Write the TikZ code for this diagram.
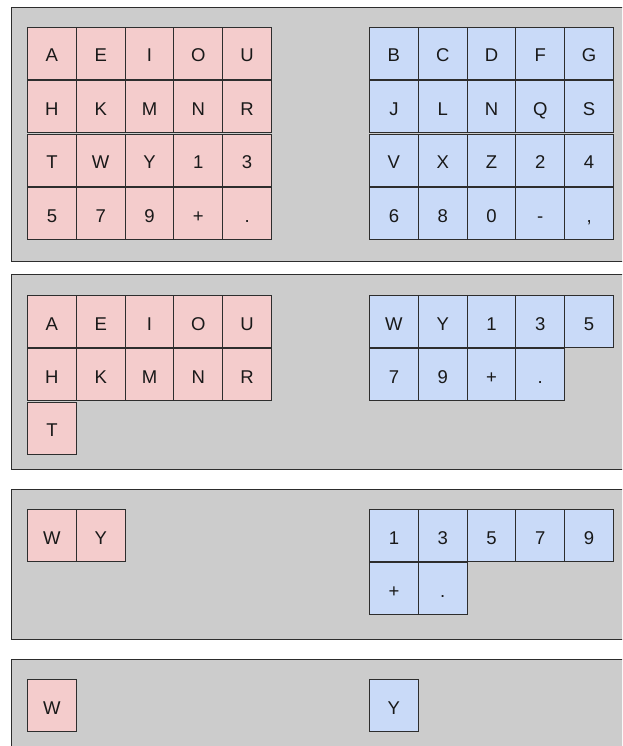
\documentclass[tikz,border=0pt]{standalone}
\usepackage{fontspec}
\setmainfont{Liberation Sans}
\usetikzlibrary{positioning}
\definecolor{PanelGray}{RGB}{204,204,204}
\definecolor{EdgeGray}{RGB}{45,45,45}
\definecolor{SoftPink}{RGB}{244,204,204}
\definecolor{SoftBlue}{RGB}{201,218,248}
\tikzset{
  panel/.style={draw=EdgeGray,fill=PanelGray,line width=1pt,anchor=north west,
    minimum width=640pt,inner sep=0pt},
  key/.style={draw=EdgeGray,line width=1pt,anchor=north west,inner sep=0pt,
    minimum width=48.8pt,minimum height=52pt,text=black!90,
    text height=17pt,text depth=0pt,
    font=\fontsize{18.5}{18.5}\selectfont},
  pinkkey/.style={key,fill=SoftPink},
  bluekey/.style={key,fill=SoftBlue}
}

\begin{document}
\begin{tikzpicture}[x=1pt,y=-1pt]
  \useasboundingbox (0,0) rectangle (622,746);
  \clip (0,0) rectangle (622,746);

  % the four stages
  \node[panel,minimum height=254pt] (stageA) at (11,7) {};
  \node[panel,minimum height=195pt] (stageB) at (11,274) {};
  \node[panel,minimum height=150pt] (stageC) at (11,489) {};
  \node[panel,minimum height=120pt] (stageD) at (11,659) {};

  % stage A
  \foreach \row [count=\r] in {{A,E,I,O,U},{H,K,M,N,R},{T,W,Y,1,3},{5,7,9,+,{.}}}
    \foreach \ch [count=\c] in \row
      \node[pinkkey] (A-L-\r-\c) at ([shift={({16+48.8*(\c-1)},{20+53.4*(\r-1)})}]stageA.north west) {\ch};
  \foreach \row [count=\r] in {{B,C,D,F,G},{J,L,N,Q,S},{V,X,Z,2,4},{6,8,0,-,{,}}}
    \foreach \ch [count=\c] in \row
      \node[bluekey] (A-R-\r-\c) at ([shift={({358+48.8*(\c-1)},{20+53.4*(\r-1)})}]stageA.north west) {\ch};

  % stage B
  \foreach \row [count=\r] in {{A,E,I,O,U},{H,K,M,N,R},{T}}
    \foreach \ch [count=\c] in \row
      \node[pinkkey] (B-L-\r-\c) at ([shift={({16+48.8*(\c-1)},{21+53.4*(\r-1)})}]stageB.north west) {\ch};
  \foreach \row [count=\r] in {{W,Y,1,3,5},{7,9,+,{.}}}
    \foreach \ch [count=\c] in \row
      \node[bluekey] (B-R-\r-\c) at ([shift={({358+48.8*(\c-1)},{21+53.4*(\r-1)})}]stageB.north west) {\ch};

  % stage C
  \foreach \ch [count=\c] in {W,Y}
    \node[pinkkey] (C-L-1-\c) at ([shift={({16+48.8*(\c-1)},20)}]stageC.north west) {\ch};
  \foreach \row [count=\r] in {{1,3,5,7,9},{+,{.}}}
    \foreach \ch [count=\c] in \row
      \node[bluekey] (C-R-\r-\c) at ([shift={({358+48.8*(\c-1)},{20+53.4*(\r-1)})}]stageC.north west) {\ch};

  % stage D
  \node[pinkkey] (D-L-1-1) at ([shift={(16,20)}]stageD.north west) {W};
  \node[bluekey] (D-R-1-1) at ([shift={(358,20)}]stageD.north west) {Y};
\end{tikzpicture}
\end{document}
